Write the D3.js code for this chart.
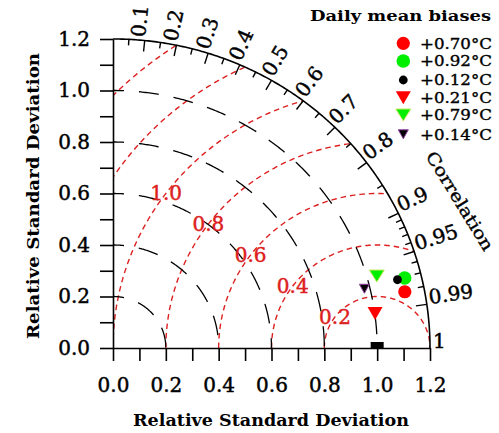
<!DOCTYPE html>
<html><head><meta charset="utf-8">
<script src="https://cdn.jsdelivr.net/npm/d3@7"></script>
<style>body{margin:0;background:#fff;}</style>
</head><body>
<svg id="chart" width="499" height="433"></svg>
<script>
// ---------------- data ----------------
const biasLabels   = ["+0.70°C","+0.92°C","+0.12°C","+0.21°C","+0.79°C","+0.14°C"];
const stdRatio     = [1.126, 1.137, 1.109, 1.001, 1.037, 0.979];
const correlation  = [0.981, 0.971, 0.971, 0.991, 0.963, 0.972];
const referencePoint = [1.0, 1.0];          // [std ratio, correlation]
const stdTicks     = [0.0,0.2,0.4,0.6,0.8,1.0,1.2];
const stdMinorTicks= [0.1,0.3,0.5,0.7,0.9,1.1];
const corrMajor    = [0.1,0.2,0.3,0.4,0.5,0.6,0.7,0.8,0.9,0.95,0.99,1];
const corrLabels   = ["0.1","0.2","0.3","0.4","0.5","0.6","0.7","0.8","0.9","0.95","0.99","1"];
const corrMinor    = [0.05,0.15,0.25,0.35,0.45,0.55,0.65,0.75,0.85,0.91,0.92,0.93,0.94,0.96,0.97,0.98];
const stdArcs      = [0.2,0.4,0.6,0.8,1.0];
const rmsArcs      = [0.2,0.4,0.6,0.8,1.0,1.2,1.4];
const rmsLabelVals = [0.2,0.4,0.6,0.8,1.0];
const rmsLabelText = ["0.2","0.4","0.6","0.8","1.0"];
const legendTitle  = "Daily mean biases";
const xTitle = "Relative Standard Deviation", yTitle = "Relative Standard Deviation", corrTitle = "Correlation";

// ---------------- styles ----------------
const markerStyle = [
  {shape:"circle", fill:"#ff0000", size:6.6, stroke:"none"},
  {shape:"circle", fill:"#00ee00", size:6.8, stroke:"none"},
  {shape:"circle", fill:"#000000", size:4.4, stroke:"none"},
  {shape:"tri",    fill:"#ff0000", w:15, h:13, stroke:"none"},
  {shape:"tri",    fill:"#00ee00", w:15, h:12, stroke:"#c8e860"},
  {shape:"tri",    fill:"#000000", w:10, h:9,  stroke:"#9040a0"}
];
const FONT = "'DejaVu Serif', serif";
const RED = "#dd2020";
const THICK = 0.45;

const svg = d3.select("#chart");
const xS = d3.scaleLinear().domain([0,1.2]).range([113,430]);
const yS = d3.scaleLinear().domain([0,1.2]).range([348,39]);
const line = d3.line().x(d=>xS(d[0])).y(d=>yS(d[1]));
function circlePts(cx,cy,r,a0,a1,n=240){
  return d3.range(n+1).map(i=>{const a=a0+(a1-a0)*i/n;return [cx+r*Math.cos(a), cy+r*Math.sin(a)];});
}
const RMAX = 1.2;

// clip for RMS arcs
svg.append("clipPath").attr("id","quad").append("path")
  .attr("d", line([[0,0], ...circlePts(0,0,RMAX,0,Math.PI/2), [0,0]]) + "Z");

// RMS (red dashed) arcs
svg.append("g").attr("clip-path","url(#quad)").selectAll("path").data(rmsArcs).join("path")
  .attr("d", r => line(circlePts(1,0,r,Math.PI,0).filter(p=>p[0]>=-0.01 && Math.hypot(p[0],p[1])<=RMAX+0.01)))
  .attr("fill","none").attr("stroke",RED).attr("stroke-width",1.4).attr("stroke-dasharray","5.5,4");

// std (black dashed) arcs
svg.append("g").selectAll("path").data(stdArcs).join("path")
  .attr("d", r => line(circlePts(0,0,r,Math.PI/2,0)))
  .attr("fill","none").attr("stroke","#000").attr("stroke-width",1.3)
  .attr("stroke-dasharray","20,15").attr("stroke-dashoffset",9);

// outer arc
svg.append("path").attr("d", line(circlePts(0,0,RMAX,0,Math.PI/2)))
  .attr("fill","none").attr("stroke","#000").attr("stroke-width",1.6);

// correlation ticks
function pixDir(c){
  const th=Math.acos(c);
  const px=xS(RMAX*c), py=yS(RMAX*Math.sin(th));
  const dx=px-xS(0), dy=py-yS(0), L=Math.hypot(dx,dy);
  return {px,py,ux:dx/L,uy:dy/L};
}
const tickG = svg.append("g").attr("stroke","#000").attr("stroke-width",1.4);
corrMajor.filter(c=>c<1).forEach(c=>{
  const d=pixDir(c);
  tickG.append("line").attr("x1",d.px).attr("y1",d.py).attr("x2",d.px-11*d.ux).attr("y2",d.py-11*d.uy);
});
corrMinor.forEach(c=>{
  const d=pixDir(c);
  tickG.append("line").attr("x1",d.px).attr("y1",d.py).attr("x2",d.px-6*d.ux).attr("y2",d.py-6*d.uy);
});
// correlation labels
corrMajor.forEach((c,i)=>{
  const d=pixDir(c);
  const ang=Math.atan2(d.uy,d.ux)*180/Math.PI;
  const tx=d.px+3*d.ux, ty=d.py+3*d.uy;
  svg.append("text").attr("transform",`translate(${tx},${ty}) rotate(${ang})`)
    .attr("font-family",FONT).attr("font-size",20).attr("fill","#000")
    .attr("stroke","#000").attr("stroke-width",THICK)
    .text(corrLabels[i]);
});

// axes
svg.append("g").attr("transform",`translate(0,${yS(0)})`)
  .call(d3.axisBottom(xS).tickValues(stdTicks).tickSize(13).tickSizeOuter(0).tickPadding(17).tickFormat(d3.format(".1f")));
svg.append("g").attr("transform",`translate(0,${yS(0)})`)
  .call(d3.axisBottom(xS).tickValues(stdMinorTicks).tickSize(13).tickSizeOuter(0).tickFormat(""))
  .select(".domain").remove();
svg.append("g").attr("transform",`translate(${xS(0)},0)`)
  .call(d3.axisLeft(yS).tickValues(stdTicks).tickSize(13).tickSizeOuter(0).tickPadding(10).tickFormat(d3.format(".1f")));
svg.append("g").attr("transform",`translate(${xS(0)},0)`)
  .call(d3.axisLeft(yS).tickValues(stdMinorTicks).tickSize(13).tickSizeOuter(0).tickFormat(""))
  .select(".domain").remove();
svg.selectAll(".tick line, .domain").attr("stroke","#000").attr("stroke-width",1.6);
svg.selectAll(".tick text").attr("font-family",FONT).attr("font-size",20).attr("fill","#000")
  .attr("stroke","#000").attr("stroke-width",THICK);

// RMS labels
const LBL_ANG = 143*Math.PI/180;
svg.selectAll("text.rms").data(rmsLabelVals).join("text").attr("class","rms")
  .attr("x",r=>xS(1+r*Math.cos(LBL_ANG))).attr("y",r=>yS(r*Math.sin(LBL_ANG)))
  .attr("text-anchor","middle").attr("dominant-baseline","central")
  .attr("font-family",FONT).attr("font-size",20).attr("fill",RED)
  .attr("stroke",RED).attr("stroke-width",THICK)
  .text((r,i)=>rmsLabelText[i]);

// reference marker
svg.append("rect").attr("x",xS(referencePoint[0])-6.5).attr("y",yS(0)-6).attr("width",13).attr("height",6).attr("fill","#000");

// markers
function drawMarker(g,cx,cy,st){
  if(st.shape==="circle"){
    g.append("circle").attr("cx",cx).attr("cy",cy).attr("r",st.size).attr("fill",st.fill);
  } else {
    g.append("path").attr("d",`M${cx-st.w/2},${cy-st.h/2}L${cx+st.w/2},${cy-st.h/2}L${cx},${cy+st.h/2}Z`)
      .attr("fill",st.fill).attr("stroke",st.stroke).attr("stroke-width",st.stroke==="none"?0:1);
  }
}
const mg = svg.append("g");
stdRatio.forEach((s,i)=>{
  const c=correlation[i], th=Math.acos(c);
  drawMarker(mg, xS(s*c), yS(s*Math.sin(th)), markerStyle[i]);
});

// legend
svg.append("text").attr("x",310).attr("y",21).attr("font-family",FONT).attr("font-weight","bold")
  .attr("font-size",15.5).attr("textLength",181).attr("lengthAdjust","spacingAndGlyphs").text(legendTitle);
const legRows=[43.3,61,80,97.7,115,134.3];
biasLabels.forEach((t,i)=>{
  drawMarker(svg,403.3,legRows[i],markerStyle[i]);
  svg.append("text").attr("x",420).attr("y",legRows[i]).attr("dy","0.36em")
    .attr("font-family",FONT).attr("font-size",14.8).attr("textLength",72).attr("lengthAdjust","spacingAndGlyphs")
    .attr("stroke","#000").attr("stroke-width",0.35).text(t);
});

// titles
svg.append("text").attr("x",271).attr("y",426).attr("text-anchor","middle")
  .attr("font-family",FONT).attr("font-weight","bold").attr("font-size",16.5)
  .attr("textLength",276).attr("lengthAdjust","spacingAndGlyphs").text(xTitle);
svg.append("text").attr("transform","translate(39,196) rotate(-90)").attr("text-anchor","middle")
  .attr("font-family",FONT).attr("font-weight","bold").attr("font-size",16.5)
  .attr("textLength",286).attr("lengthAdjust","spacingAndGlyphs").text(yTitle);
svg.append("text").attr("transform","translate(460,201) rotate(58.5)").attr("text-anchor","middle")
  .attr("dominant-baseline","central")
  .attr("font-family",FONT).attr("font-size",17).attr("textLength",113).attr("lengthAdjust","spacingAndGlyphs")
  .attr("stroke","#000").attr("stroke-width",0.4).text(corrTitle);
</script>
</body></html>
